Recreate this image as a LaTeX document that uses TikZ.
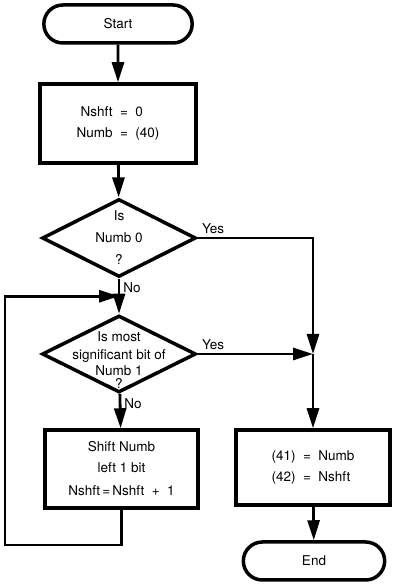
\documentclass[tikz,border=0pt]{standalone}
\usepackage{fontspec}
\setmainfont{TeX Gyre Heros}
\usepackage{tikz}
\usetikzlibrary{shapes.geometric, shapes.misc, arrows.meta, positioning, calc}

\begin{document}
\begin{tikzpicture}[x=1pt, y=1pt,
    every node/.style={font=\fontsize{13.5}{16}\selectfont},
    term/.style={draw, line width=3.5pt, rounded rectangle, minimum width=155pt, minimum height=38pt},
    proc/.style={draw, line width=3.5pt, rectangle, minimum width=155pt, minimum height=78pt, align=center},
    decision/.style={draw, line width=3.5pt, diamond, minimum width=154pt, minimum height=78pt, inner sep=0pt},
    flow/.style={line width=2.8pt, -{Triangle[length=20pt,width=12pt]}},
    lbl/.style={inner sep=3pt}]
    \useasboundingbox (0,0) rectangle (392,588);

    % Left column
    \node[term] (start) at (118,564) {Start};
    \node[proc, minimum width=156pt, minimum height=79pt] (init) at (118,464.5)
        {\begin{tabular}{r@{\ \ =\ \ }l}Nshft & 0\\[5pt] Numb & (40)\end{tabular}};
    \node[decision] (isz) at (119,350) {};
    \node[align=center] (iszq) at (isz) {Is\\[6pt]Numb 0\\[6pt]?};
    \node[decision, minimum height=77pt] (msb) at (119,234) {};
    \node[align=center] (msbq) at (119,228) {Is most\\[2pt]significant bit of\\[0pt]Numb 1\\[-3pt]?};
    \node[proc, minimum width=153pt] (shift) at (121.5,119)
        {Shift Numb\\[5pt]left 1 bit\\[7pt]Nshft\,=\,Nshft \ + \ 1};

    % Right column
    \node[proc, minimum width=154pt, minimum height=75pt] (store) at (313,120.5)
        {\begin{tabular}{l@{\ \ =\ \ }l}(41) & Numb\\[5pt](42) & Nshft\end{tabular}};
    \node[term, minimum width=148pt] (finish) at (314,27) {End};

    % Helper points
    \coordinate (join) at (store.north |- msb.east);
    \coordinate (back) at ($(isz.south)!0.5!(msb.north)$);
    \coordinate (corner) at (5,43);

    % Connectors
    \draw[flow] (start) -- (init);
    \draw[flow] (init) -- (isz);
    \draw[flow] (isz) -- node[pos=0, below right, lbl] {No} (msb);
    \draw[flow] (msb) -- node[pos=0, below right, lbl] {No} (shift);
    \draw[flow] (isz.east) -| node[pos=0, above right, lbl] {Yes} (join);
    \draw[flow] (msb.east) -- node[pos=0, above right, lbl] {Yes} (join);
    \draw[flow] (join) -- (store);
    \draw[flow] (store) -- (finish);

    % Loop back
    \draw[flow] (shift.south) |- (corner) |- (back);
\end{tikzpicture}
\end{document}
